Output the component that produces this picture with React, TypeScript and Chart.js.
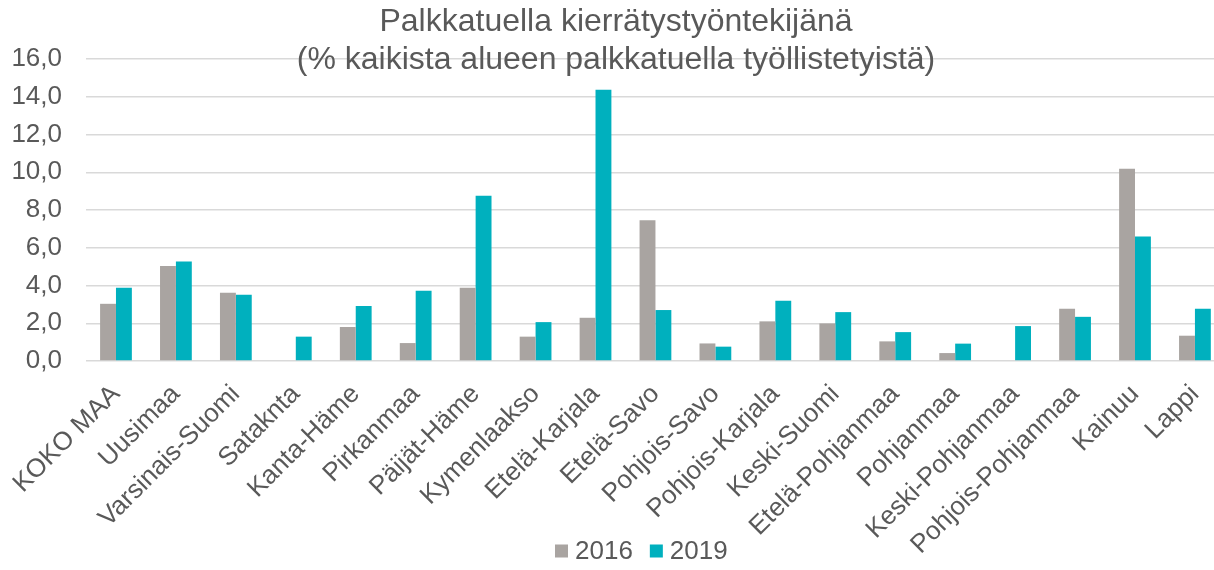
import React, { useEffect, useRef } from "react";
import { Chart, registerables } from "chart.js";

Chart.register(...registerables);

const categories = [
  "KOKO MAA", "Uusimaa", "Varsinais-Suomi", "Sataknta", "Kanta-Häme", "Pirkanmaa",
  "Päijät-Häme", "Kymenlaakso", "Etelä-Karjala", "Etelä-Savo", "Pohjois-Savo",
  "Pohjois-Karjala", "Keski-Suomi", "Etelä-Pohjanmaa", "Pohjanmaa", "Keski-Pohjanmaa",
  "Pohjois-Pohjanmaa", "Kainuu", "Lappi",
];
const values2016 = [3.03, 5.03, 3.61, 0, 1.8, 0.95, 3.88, 1.29, 2.29, 7.46, 0.93, 2.1, 1.99, 1.04, 0.42, 0, 2.77, 10.18, 1.34];
const values2019 = [3.88, 5.27, 3.51, 1.29, 2.91, 3.72, 8.75, 2.06, 14.37, 2.7, 0.76, 3.19, 2.59, 1.53, 0.92, 1.85, 2.34, 6.59, 2.77];
const seriesNames = ["2016", "2019"];
const seriesColors = ["#A9A4A1", "#00B0BE"];
const titleLines = ["Palkkatuella kierrätystyöntekijänä", "(% kaikista alueen palkkatuella työllistetyistä)"];

const TEXT = "#595959";
const FONT = "Arial, 'Liberation Sans', sans-serif";

const decorPlugin = {
  id: "decor",
  afterDraw(chart: any) {
    const ctx = chart.ctx;
    ctx.save();
    ctx.fillStyle = TEXT;
    ctx.font = `32px ${FONT}`;
    ctx.textAlign = "center";
    ctx.textBaseline = "middle";
    ctx.fillText(titleLines[0], 616, 22);
    ctx.fillText(titleLines[1], 616, 60);
    // legend
    ctx.font = `26px ${FONT}`;
    ctx.textAlign = "left";
    let x = 555;
    const y = 551;
    chart.data.datasets.forEach((ds: any, i: number) => {
      ctx.fillStyle = ds.backgroundColor;
      ctx.fillRect(x, y - 6.5, 13, 13);
      ctx.fillStyle = TEXT;
      ctx.fillText(ds.label, x + 20, y + 1);
      x += 20 + ctx.measureText(ds.label).width + 17;
    });
    ctx.restore();
  },
};

export default function App() {
  const ref = useRef<HTMLCanvasElement>(null);
  useEffect(() => {
    const chart = new Chart(ref.current!, {
      type: "bar",
      data: {
        labels: categories,
        datasets: seriesNames.map((name, i) => ({
          label: name,
          data: i === 0 ? values2016 : values2019,
          backgroundColor: seriesColors[i],
          categoryPercentage: 0.53,
          barPercentage: 1,
        })),
      },
      options: {
        animation: false,
        responsive: false,
        maintainAspectRatio: false,
        layout: { padding: { top: 59, left: 0, right: 0, bottom: 0 } },
        plugins: {
          title: { display: false },
          tooltip: { enabled: false },
          legend: { display: false },
        },
        scales: {
          x: {
            grid: { display: false },
            border: { display: false },
            ticks: {
              color: TEXT,
              font: { size: 26, family: FONT },
              maxRotation: 45,
              minRotation: 45,
              autoSkip: false,
              padding: 10,
            },
            afterFit(scale: any) {
              scale.height = 570 - 361;
            },
          },
          y: {
            min: 0,
            max: 16,
            grid: { color: "#D9D9D9", lineWidth: 1.5, drawTicks: false },
            border: { display: false },
            ticks: {
              stepSize: 2,
              color: TEXT,
              font: { size: 26, family: FONT },
              padding: 24,
              callback: (v: any) => Number(v).toFixed(1).replace(".", ","),
            },
            afterFit(scale: any) {
              scale.width = 86;
            },
          },
        },
      },
      plugins: [decorPlugin],
    });
    return () => chart.destroy();
  }, []);
  return (
    <div style={{ position: "fixed", left: 0, top: 0, width: 1214, height: 570, overflow: "hidden", background: "#fff" }}>
      <canvas ref={ref} width={1227} height={570} style={{ width: 1227, height: 570 }} />
    </div>
  );
}
